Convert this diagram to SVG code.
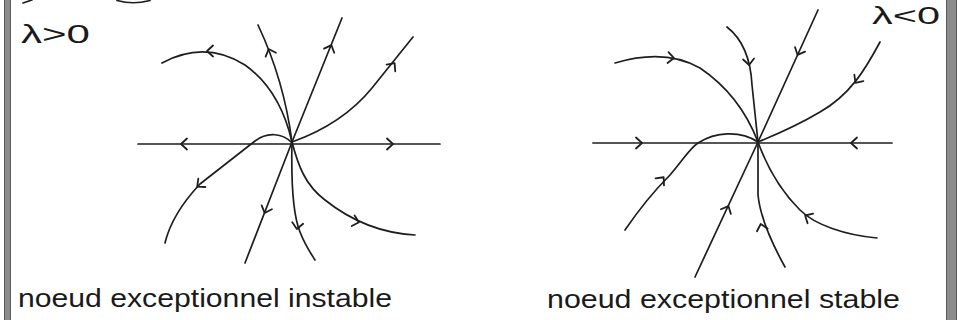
<svg xmlns="http://www.w3.org/2000/svg" xmlns:xlink="http://www.w3.org/1999/xlink" width="957" height="320" viewBox="0 0 957 320">
<style>
.ln{fill:none;stroke:#1e1e1e;stroke-width:1.7;stroke-linecap:round;stroke-linejoin:round}
.ar{fill:none;stroke:#1e1e1e;stroke-width:1.8;stroke-linecap:round;stroke-linejoin:round}
.tx{font-family:"Liberation Sans","DejaVu Sans",sans-serif;fill:#1a1a1a}
.bar{fill:#8c8c8c;stroke:#5a5a5a;stroke-width:1}
</style>
<defs>
<path id="ah" class="ar" d="M-5,-5.5 L1,0 L-5,5.5"/>
</defs>
<rect width="957" height="320" fill="#ffffff"/>
<g id="borders">
<rect class="bar" x="4.5" y="-1" width="6" height="322"/>
<rect class="bar" x="946.5" y="-1" width="10" height="322"/>
</g>
<g id="top-marks">
<path class="ln" d="M23,3 L32,0"/>
<path class="ln" d="M117,0.5 Q133,5 150,0.5"/>
</g>
<g id="left-portrait">
<g id="left-axis">
<path class="ln" d="M138,144 L440,144"/>
<use xlink:href="#ah" transform="translate(182,144) rotate(180)"/>
<use xlink:href="#ah" transform="translate(392,144)"/>
</g>
<g id="left-trajectories">
<path class="ln" d="M162,63 Q205,40 245,65 Q280,90 292,142"/>
<path class="ln" d="M292,142 Q284,80 258,25"/>
<path class="ln" d="M292,142 L342,18"/>
<path class="ln" d="M292,142 C320,132 350,115 372,88 L413,37"/>
<path class="ln" d="M291,142 C283,134 268,131 255,141 L200,184 C185,200 170,222 165,243"/>
<path class="ln" d="M292,142 L245,263"/>
<path class="ln" d="M292,142 C291,185 293,215 300,232 C305,245 310,252 315,260"/>
<path class="ln" d="M292,142 C298,165 305,185 325,200 C350,220 380,233 415,235"/>
</g>
<g id="left-arrows">
<use xlink:href="#ah" transform="translate(208,51) rotate(180)"/>
<use xlink:href="#ah" transform="translate(269,50) rotate(-111)"/>
<use xlink:href="#ah" transform="translate(331,46) rotate(-68)"/>
<use xlink:href="#ah" transform="translate(394,64) rotate(-52)"/>
<use xlink:href="#ah" transform="translate(198,186) rotate(140)"/>
<use xlink:href="#ah" transform="translate(265,212) rotate(111)"/>
<use xlink:href="#ah" transform="translate(297,228) rotate(98)"/>
<use xlink:href="#ah" transform="translate(358,222) rotate(15)"/>
</g>
</g>
<g id="right-portrait">
<g id="right-axis">
<path class="ln" d="M593,143 L892,143"/>
<use xlink:href="#ah" transform="translate(641,143)"/>
<use xlink:href="#ah" transform="translate(852,143) rotate(180)"/>
</g>
<g id="right-trajectories">
<path class="ln" d="M615,63 Q665,48 700,68 Q740,95 758,142"/>
<path class="ln" d="M727,27 Q750,45 752,85 L758,142"/>
<path class="ln" d="M818,10 L758,142"/>
<path class="ln" d="M880,42 C865,70 850,95 820,112 C795,127 775,135 758,142"/>
<path class="ln" d="M625,230 C640,208 655,190 670,175 C683,160 690,148 698,143 C715,132 740,130 758,142"/>
<path class="ln" d="M695,277 L758,142"/>
<path class="ln" d="M785,267 C770,240 760,215 758,195 L758,142"/>
<path class="ln" d="M877,238 C845,235 815,225 800,210 C785,195 770,175 758,142"/>
</g>
<g id="right-arrows">
<use xlink:href="#ah" transform="translate(673,58) rotate(5)"/>
<use xlink:href="#ah" transform="translate(749,64) rotate(85)"/>
<use xlink:href="#ah" transform="translate(798,54) rotate(114)"/>
<use xlink:href="#ah" transform="translate(856,82) rotate(125)"/>
<use xlink:href="#ah" transform="translate(663,178) rotate(-50)"/>
<use xlink:href="#ah" transform="translate(728,207) rotate(-65)"/>
<use xlink:href="#ah" transform="translate(761,225) rotate(-105)"/>
<use xlink:href="#ah" transform="translate(806,216) rotate(-150)"/>
</g>
</g>
<g id="labels">
<text class="tx" x="21" y="43" font-size="25" textLength="69" lengthAdjust="spacingAndGlyphs">λ&gt;0</text>
<text class="tx" x="872" y="24" font-size="24" textLength="68" lengthAdjust="spacingAndGlyphs">λ&lt;0</text>
<text class="tx" x="18" y="307" font-size="26" textLength="374" lengthAdjust="spacingAndGlyphs">noeud exceptionnel instable</text>
<text class="tx" x="547" y="308" font-size="26" textLength="353" lengthAdjust="spacingAndGlyphs">noeud exceptionnel stable</text>
</g>
</svg>
